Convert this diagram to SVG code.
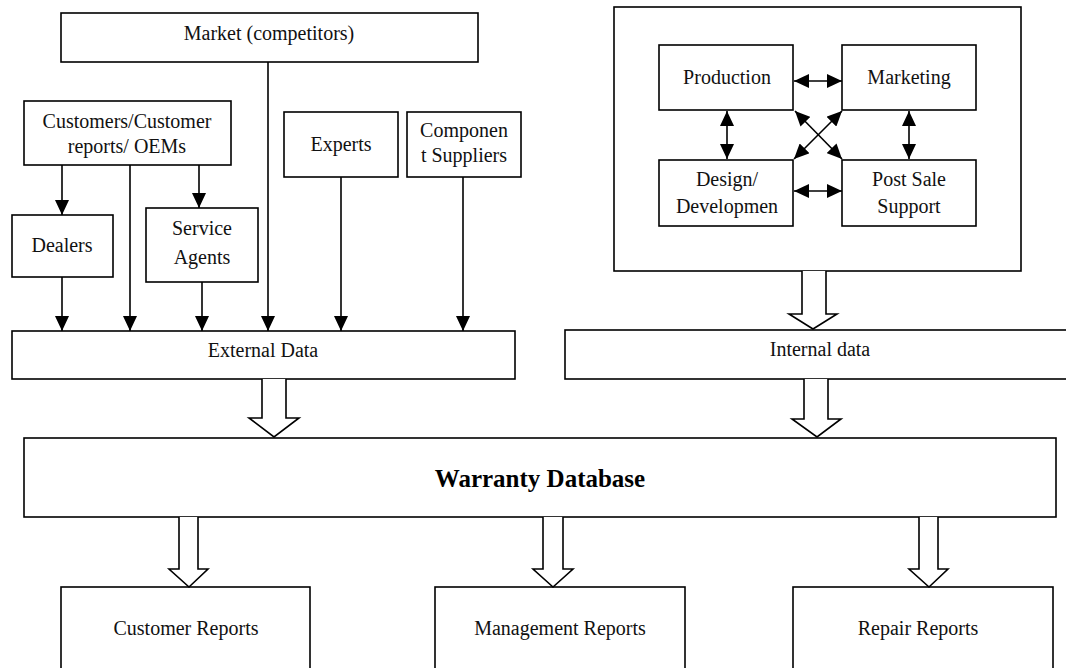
<svg xmlns="http://www.w3.org/2000/svg" width="1066" height="668" viewBox="0 0 1066 668">
<style>
.box{fill:#fff;stroke:#000;stroke-width:1.6}
.t{font-family:"Liberation Serif","Times New Roman",serif;font-size:20px;fill:#111;text-anchor:middle}
.tb{font-family:"Liberation Serif","Times New Roman",serif;font-size:25px;font-weight:bold;fill:#000;text-anchor:middle}
.ln{stroke:#000;stroke-width:1.6;fill:none}
.hol{fill:#fff;stroke:#000;stroke-width:1.6;stroke-linejoin:miter}
</style>
<defs>
<marker id="ah" markerUnits="userSpaceOnUse" markerWidth="15" markerHeight="14" refX="15" refY="7" orient="auto-start-reverse">
<path d="M0,0 L15,7 L0,14 z" fill="#000"/>
</marker>
</defs>
<rect width="1066" height="668" fill="#fff"/>

<g id="market"><rect class="box" x="61" y="13" width="417" height="49"/><text class="t" x="269" y="40">Market (competitors)</text></g>
<g id="customers"><rect class="box" x="24" y="101" width="207" height="64"/><text class="t" x="127" y="128">Customers/Customer</text><text class="t" x="127" y="153">reports/ OEMs</text></g>
<g id="experts"><rect class="box" x="284" y="112" width="114" height="65"/><text class="t" x="341" y="151">Experts</text></g>
<g id="suppliers"><rect class="box" x="407" y="112" width="114" height="65"/><text class="t" x="464" y="137">Componen</text><text class="t" x="464" y="162">t Suppliers</text></g>
<g id="dealers"><rect class="box" x="12" y="215" width="101" height="62"/><text class="t" x="62" y="252">Dealers</text></g>
<g id="service-agents"><rect class="box" x="146" y="208" width="112" height="74"/><text class="t" x="202" y="235">Service</text><text class="t" x="202" y="264">Agents</text></g>
<g id="external-data"><rect class="box" x="12" y="331" width="503" height="48"/><text class="t" x="263" y="357">External Data</text></g>

<g id="internal-org"><rect class="box" x="614" y="7" width="407" height="264"/></g>
<g id="production"><rect class="box" x="659" y="45" width="134" height="65"/><text class="t" x="727" y="84">Production</text></g>
<g id="marketing"><rect class="box" x="842" y="45" width="134" height="65"/><text class="t" x="909" y="84">Marketing</text></g>
<g id="design"><rect class="box" x="659" y="160" width="134" height="66"/><text class="t" x="727" y="186">Design/</text><text class="t" x="727" y="213">Developmen</text></g>
<g id="post-sale"><rect class="box" x="842" y="160" width="134" height="66"/><text class="t" x="909" y="186">Post Sale</text><text class="t" x="909" y="213">Support</text></g>
<g id="internal-data"><rect class="box" x="565" y="330" width="520" height="49"/><text class="t" x="820" y="356">Internal data</text></g>

<g id="warranty-db"><rect class="box" x="24" y="438" width="1032" height="79"/><text class="tb" x="540" y="487">Warranty Database</text></g>

<g id="customer-reports"><rect class="box" x="61" y="587" width="249" height="100"/><text class="t" x="186" y="635">Customer Reports</text></g>
<g id="management-reports"><rect class="box" x="435" y="587" width="250" height="100"/><text class="t" x="560" y="635">Management Reports</text></g>
<g id="repair-reports"><rect class="box" x="793" y="587" width="260" height="100"/><text class="t" x="918" y="635">Repair Reports</text></g>

<g id="connectors">
<line class="ln" x1="62" y1="165" x2="62" y2="215" marker-end="url(#ah)"/>
<line class="ln" x1="199" y1="165" x2="199" y2="208" marker-end="url(#ah)"/>
<line class="ln" x1="130" y1="165" x2="130" y2="331" marker-end="url(#ah)"/>
<line class="ln" x1="268" y1="62" x2="268" y2="331" marker-end="url(#ah)"/>
<line class="ln" x1="341" y1="177" x2="341" y2="331" marker-end="url(#ah)"/>
<line class="ln" x1="463" y1="177" x2="463" y2="331" marker-end="url(#ah)"/>
<line class="ln" x1="62" y1="277" x2="62" y2="331" marker-end="url(#ah)"/>
<line class="ln" x1="202" y1="282" x2="202" y2="331" marker-end="url(#ah)"/>

<line class="ln" x1="794" y1="81" x2="842" y2="81" marker-start="url(#ah)" marker-end="url(#ah)"/>
<line class="ln" x1="794" y1="191" x2="842" y2="191" marker-start="url(#ah)" marker-end="url(#ah)"/>
<line class="ln" x1="727" y1="111" x2="727" y2="159" marker-start="url(#ah)" marker-end="url(#ah)"/>
<line class="ln" x1="909" y1="111" x2="909" y2="159" marker-start="url(#ah)" marker-end="url(#ah)"/>
<line class="ln" x1="795" y1="111" x2="842" y2="159" marker-start="url(#ah)" marker-end="url(#ah)"/>
<line class="ln" x1="842" y1="111" x2="794" y2="159" marker-start="url(#ah)" marker-end="url(#ah)"/>

<path class="hol" d="M262,379 V418 H249 L274,437 L299,418 H286 V379"/>
<path class="hol" d="M802,271 V314 H789 L813,329 L837,314 H826 V271"/>
<path class="hol" d="M804,379 V419 H792 L817,437 L841,419 H828 V379"/>
<path class="hol" d="M179,517 V569 H169 L189,587 L208,569 H198 V517"/>
<path class="hol" d="M543,517 V569 H533 L553,587 L573,569 H563 V517"/>
<path class="hol" d="M919,517 V569 H909 L929,587 L948,569 H938 V517"/>
</g>
</svg>
